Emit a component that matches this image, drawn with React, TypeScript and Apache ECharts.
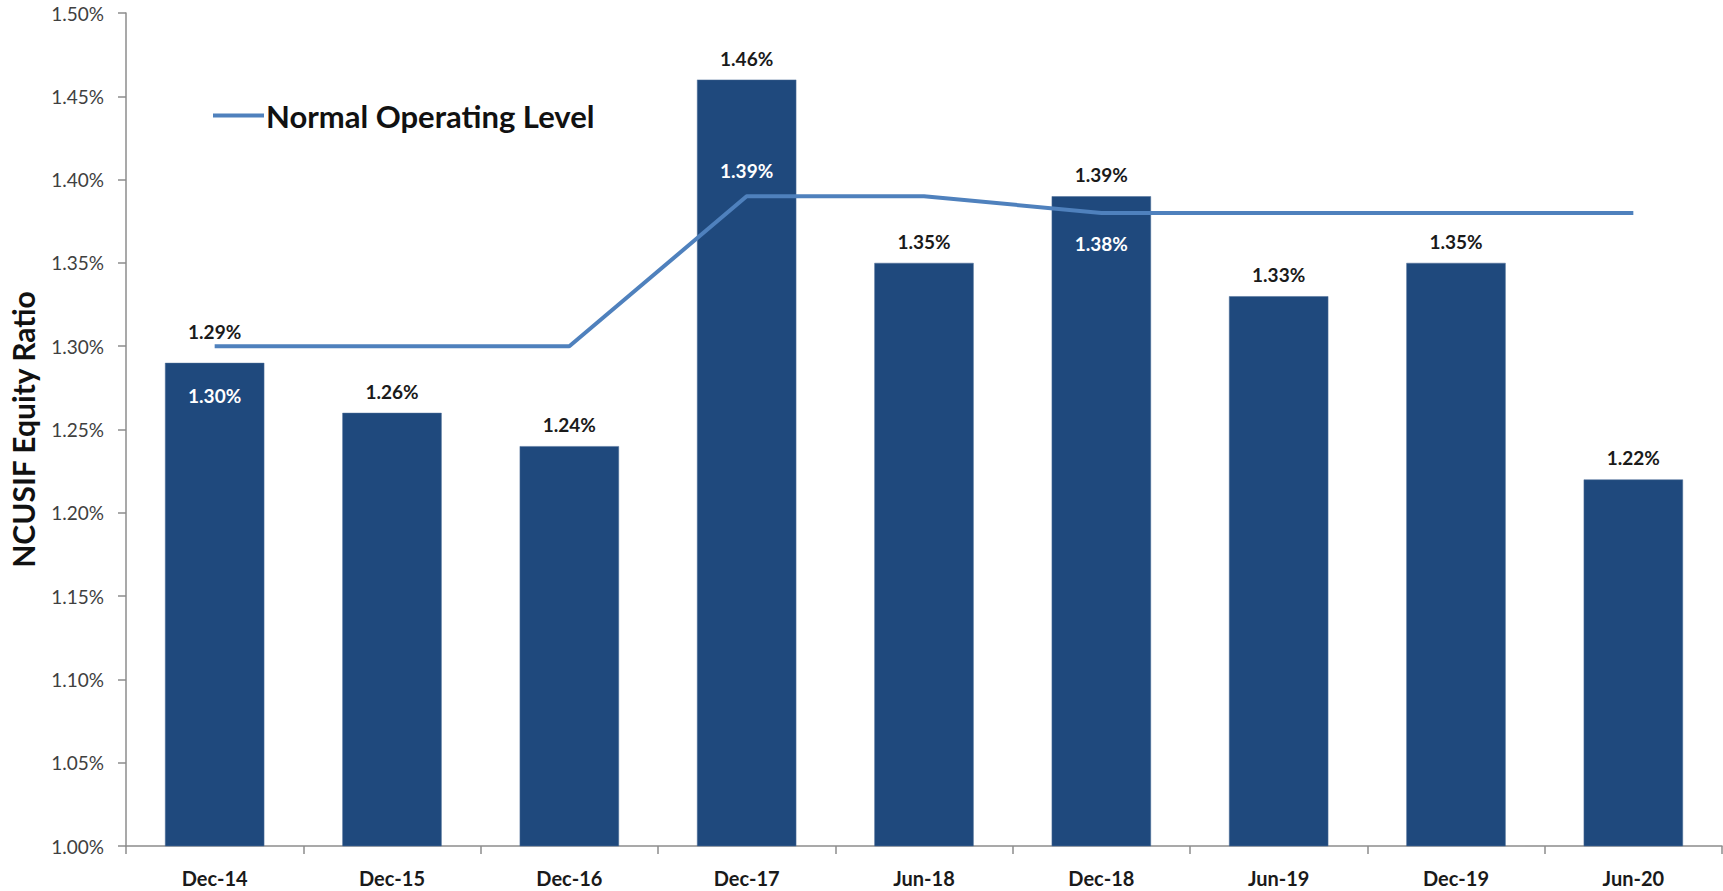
import React, { useEffect, useRef } from "react";
import * as echarts from "echarts";

const categories = ["Dec-14", "Dec-15", "Dec-16", "Dec-17", "Jun-18", "Dec-18", "Jun-19", "Dec-19", "Jun-20"];
const equityRatio = [1.29, 1.26, 1.24, 1.46, 1.35, 1.39, 1.33, 1.35, 1.22];
const normalOperatingLevel = [1.3, 1.3, 1.3, 1.39, 1.39, 1.38, 1.38, 1.38, 1.38];
const lineLabelIndex = [0, 3, 5];
const lineLabelPos = ["bottom", "bottom", "bottom", "top", "top", "bottom", "bottom", "bottom", "bottom"];
const yTickMin = 1.0;
const yTickMax = 1.5;
const yTickStep = 0.05;

const FONT = "Lato, 'Liberation Sans', sans-serif";

export default function App() {
  const ref = useRef<HTMLDivElement>(null);
  useEffect(() => {
    if (!ref.current) return;
    const chart = echarts.init(ref.current, null, { renderer: "svg" });
    const pct = (v: number) => v.toFixed(2) + "%";
    chart.setOption({
      animation: false,
      textStyle: { fontFamily: FONT },
      grid: { left: 125, right: 1, top: 13, bottom: 45, containLabel: false },
      legend: {
        data: ["Normal Operating Level"],
        left: 208,
        top: 95,
        icon: "rect",
        itemWidth: 51,
        itemHeight: 4,
        itemGap: 10,
        textStyle: { fontFamily: FONT, fontSize: 31, fontWeight: "bold", color: "#111", padding: [0, 0, 0, -3] },
      },
      xAxis: {
        type: "category",
        data: categories,
        axisLine: { lineStyle: { color: "#8c8c8c", width: 1.5 } },
        axisTick: { show: true, length: 8, lineStyle: { color: "#8c8c8c", width: 1.5 } },
        axisLabel: { fontFamily: FONT, fontSize: 20, fontWeight: "bold", color: "#1a1a1a", margin: 22 },
        splitLine: { show: false },
      },
      yAxis: {
        type: "value",
        min: yTickMin,
        max: yTickMax,
        interval: yTickStep,
        name: "NCUSIF Equity Ratio",
        nameLocation: "middle",
        nameGap: 88,
        nameRotate: 90,
        nameTextStyle: { fontFamily: FONT, fontSize: 30, fontWeight: "bold", color: "#111" },
        axisLine: { show: true, lineStyle: { color: "#8c8c8c", width: 1.5 } },
        axisTick: { show: true, length: 8, lineStyle: { color: "#8c8c8c", width: 1.5 } },
        axisLabel: { fontFamily: FONT, fontSize: 19, color: "#404040", margin: 22, formatter: (v: number) => pct(v) },
        splitLine: { show: false },
      },
      series: [
        {
          type: "bar",
          name: "NCUSIF Equity Ratio",
          barCategoryGap: "44%",
          itemStyle: { color: "#1f497d", borderColor: "#4f6f99", borderWidth: 0.5 },
          label: {
            show: true,
            position: "top",
            distance: 12,
            fontFamily: FONT,
            fontSize: 19,
            fontWeight: "bold",
            color: "#1a1a1a",
            formatter: (p: any) => pct(p.value),
          },
          data: equityRatio.map((v, i) => (i === 0 ? { value: v, label: { distance: 22 } } : v)),
          z: 2,
        },
        {
          type: "line",
          name: "Normal Operating Level",
          symbol: "circle",
          symbolSize: 0,
          showSymbol: true,
          lineStyle: { color: "#4f81bd", width: 4 },
          itemStyle: { color: "#4f81bd" },
          z: 3,
          labelLayout: { hideOverlap: false },
          data: normalOperatingLevel.map((v, i) => ({
            value: v,
            label: {
              show: lineLabelIndex.includes(i),
              position: lineLabelPos[i],
              distance: i === 0 ? 40 : i === 3 ? 16 : 21,
              fontFamily: FONT,
              fontSize: 19,
              fontWeight: "bold",
              color: "#ffffff",
              formatter: (p: any) => pct(p.value),
            },
          })),
        },
      ],
    });
    return () => chart.dispose();
  }, []);
  return (
    <div
      ref={ref}
      style={{ position: "absolute", left: 0, top: 0, width: 1723, height: 891, background: "#fff" }}
    />
  );
}
